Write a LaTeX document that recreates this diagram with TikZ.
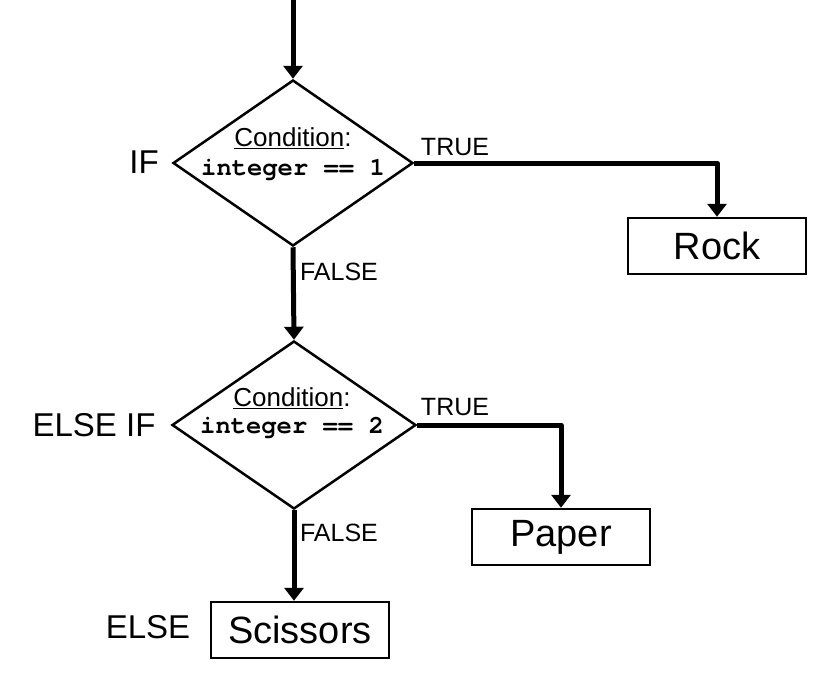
\documentclass[tikz,border=0pt]{standalone}
\usepackage{fontspec}
\setmainfont{Liberation Sans}
\newfontfamily\codefont{TeX Gyre Cursor}
\usetikzlibrary{shapes.geometric,arrows.meta}
\tikzset{
  arr/.style={line width=5pt, line join=round, -{Triangle[width=19pt,length=13pt]}},
  decision/.style={diamond, draw, line width=2.5pt, fill=white, inner sep=0pt, minimum width=240pt, minimum height=166pt},
  outbox/.style={draw, line width=2.5pt, minimum width=178pt, minimum height=56pt, inner sep=0pt, font=\fontsize{38}{40}\selectfont},
  cond/.style={font=\fontsize{26}{28}\selectfont, inner sep=0pt},
  code/.style={font=\codefont\bfseries\fontsize{25.5}{27}\selectfont, inner sep=0pt},
  kw/.style={font=\fontsize{33}{35}\selectfont, inner sep=0pt},
  tf/.style={font=\fontsize{25}{27}\selectfont, inner sep=0pt}
}
\begin{document}
\begin{tikzpicture}[x=1pt,y=-1pt]
\useasboundingbox[fill=white] (0,0) rectangle (840,686);
% decisions
\node[decision] (d1) at (293,163) {};
\node[decision, minimum width=244pt, minimum height=168pt] (d2) at (294,425) {};
\node[cond] (c1) at (293,138) {\underline{Condition}:};
\node[code] (i1) at (293,170) {integer == 1};
\node[cond] (c2) at (292,398) {\underline{Condition}:};
\node[code] (i2) at (292,428) {integer == 2};
% boxes
\node[outbox] (rock) at (717,246) {Rock};
\node[outbox] (paper) at (561,537) {Paper};
\node[outbox] (sc) at (300,630) {Scissors};
% keyword labels
\node[kw] (lif) at (144,162) {IF};
\node[kw] (lelseif) at (94,425) {ELSE IF};
\node[kw] (lelse) at (148,627) {ELSE};
% true/false labels
\node[tf] (t1) at (455,147) {TRUE};
\node[tf] (t2) at (455,407) {TRUE};
\node[tf] (f1) at (339,272) {FALSE};
\node[tf] (f2) at (339,533) {FALSE};
% connectors
\coordinate (start) at (293,0);
\draw[arr] (start) -- (d1.north);
\draw[arr] (d1.south) -- (d2.north);
\draw[arr] (d1.east) -| (rock.north);
\draw[arr] (d2.east) -| (paper.north);
\draw[arr] (d2.south) -- (d2.south |- sc.north);
\end{tikzpicture}
\end{document}
